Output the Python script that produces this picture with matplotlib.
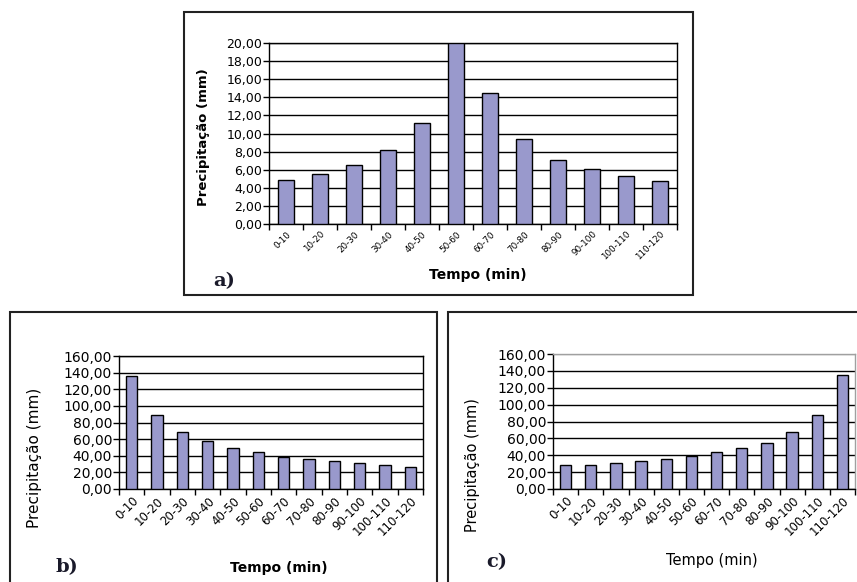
import numpy as np
import matplotlib
matplotlib.use("Agg")
import matplotlib.pyplot as plt
from matplotlib.patches import Rectangle
from matplotlib.ticker import FuncFormatter

# classes de tempo (min)
intervals = ["0-10", "10-20", "20-30", "30-40", "40-50", "50-60",
             "60-70", "70-80", "80-90", "90-100", "100-110", "110-120"]

# precipitação (mm)
precip_a = [4.9, 5.5, 6.5, 8.2, 11.2, 20.0, 14.5, 9.4, 7.1, 6.1, 5.3, 4.7]
precip_b = [136.0, 89.0, 69.0, 58.0, 49.0, 44.5, 39.0, 35.5, 33.5, 31.5, 29.3, 27.0]
precip_c = [28.6, 28.6, 31.0, 33.0, 35.3, 39.2, 44.3, 48.2, 55.0, 68.0, 88.0, 135.5]

bar_color = "#9999cc"
W, H = 857, 582


def fig_rect(x0, y0, x1, y1):
    # pixel box -> figure fraction [left, bottom, width, height]
    return [x0 / W, 1 - y1 / H, (x1 - x0) / W, (y1 - y0) / H]


def comma_fmt(v, pos):
    return f"{v:.2f}".replace(".", ",")


def draw_panel(ax, values, ymax, ystep, xfont, yfont, gray_frame=False):
    x = np.arange(len(values))
    ax.bar(x, values, width=0.45, color=bar_color, edgecolor="black",
           linewidth=1.0, zorder=3)
    ax.set_xlim(-0.5, len(values) - 0.5)
    ax.set_ylim(0, ymax)
    ax.set_yticks(np.arange(0, ymax + ystep / 2, ystep))
    ax.yaxis.set_major_formatter(FuncFormatter(comma_fmt))
    ax.grid(axis="y", color="black", linewidth=1.0, zorder=1)
    # tick marks on category boundaries, labels at centres
    ax.set_xticks(np.arange(len(values) + 1) - 0.5)
    ax.set_xticklabels([])
    ax.set_xticks(x, minor=True)
    ax.set_xticklabels(intervals, minor=True, rotation=45, ha="right",
                       rotation_mode="anchor", fontsize=xfont)
    ax.tick_params(axis="x", which="major", length=4, width=1, direction="out")
    ax.tick_params(axis="x", which="minor", length=0, pad=4)
    ax.tick_params(axis="y", length=4, width=1, labelsize=yfont, pad=1)
    for s in ax.spines.values():
        s.set_linewidth(1.0)
        s.set_color("black")
    if gray_frame:
        ax.spines["top"].set_color("#a0a0a0")
        ax.spines["right"].set_color("#a0a0a0")
        ax.get_ygridlines()[-1].set_color("#a0a0a0")


fig = plt.figure(figsize=(W / 100, H / 100), dpi=100)

# painel a
ax_a = fig.add_axes(fig_rect(269, 43, 677, 224))
draw_panel(ax_a, precip_a, 20, 2, 6.3, 9)
# painel b
ax_b = fig.add_axes(fig_rect(119, 356, 423, 489))
draw_panel(ax_b, precip_b, 160, 20, 8.5, 10)
# painel c
ax_c = fig.add_axes(fig_rect(553, 354, 855, 489))
draw_panel(ax_c, precip_c, 160, 20, 8.5, 10, gray_frame=True)

# molduras
for x0, y0, x1, y1 in [(184, 12, 693, 295), (10, 312, 437, 590), (448, 312, 870, 590)]:
    fig.add_artist(Rectangle((x0 / W, 1 - y1 / H), (x1 - x0) / W, (y1 - y0) / H,
                             transform=fig.transFigure, fill=False,
                             edgecolor="#222222", linewidth=1.5))

# rótulos dos eixos
fig.text(203 / W, 1 - 137 / H, "Precipitação (mm)", rotation=90, ha="center",
         va="center", fontsize=9.5, fontweight="bold")
fig.text(478 / W, 1 - 275 / H, "Tempo (min)", ha="center", va="center",
         fontsize=10, fontweight="bold")
fig.text(35 / W, 1 - 458 / H, "Precipitação (mm)", rotation=90, ha="center",
         va="center", fontsize=11)
fig.text(279 / W, 1 - 568 / H, "Tempo (min)", ha="center", va="center",
         fontsize=10, fontweight="bold")
fig.text(472 / W, 1 - 465 / H, "Precipitação (mm)", rotation=90, ha="center",
         va="center", fontsize=10.5)
fig.text(712 / W, 1 - 560 / H, "Tempo (min)", ha="center", va="center",
         fontsize=10.5)

# letras dos painéis
for lbl, px, py in [("a)", 224, 281), ("b)", 67, 567), ("c)", 497, 562)]:
    fig.text(px / W, 1 - py / H, lbl, ha="center", va="center", fontsize=14,
             fontweight="bold", family="DejaVu Serif", color="#1a1a2a")

fig.savefig("out.png", dpi=100)
